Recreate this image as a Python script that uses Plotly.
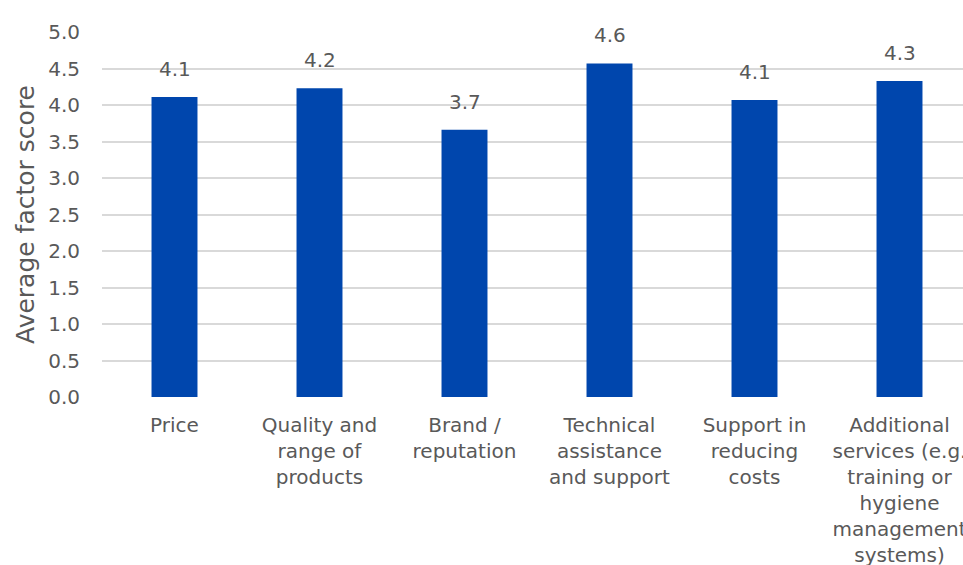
import plotly.graph_objects as go

# Factor categories and their average scores
categories = [
    "Price",
    "Quality and\nrange of\nproducts",
    "Brand /\nreputation",
    "Technical\nassistance\nand support",
    "Support in\nreducing\ncosts",
    "Additional\nservices (e.g.\ntraining or\nhygiene\nmanagement\nsystems)",
]
scores = [4.11, 4.23, 3.66, 4.57, 4.07, 4.33]
y_ticks = [0.0, 0.5, 1.0, 1.5, 2.0, 2.5, 3.0, 3.5, 4.0, 4.5, 5.0]

FONT = "DejaVu Sans"
TEXT_COLOR = "#595959"
BAR_COLOR = "#0046AD"
GRID_COLOR = "#D9D9D9"

x_labels = [c.replace("\n", "<br>") for c in categories]

fig = go.Figure(
    go.Bar(
        x=x_labels,
        y=scores,
        marker=dict(color=BAR_COLOR, line=dict(width=0)),
        hoverinfo="skip",
    )
)

# Value labels above each bar
for lab, val in zip(x_labels, scores):
    fig.add_annotation(
        x=lab, y=val, text=f"{val:.1f}",
        showarrow=False, yanchor="bottom", yshift=14,
        font=dict(family=FONT, size=20, color=TEXT_COLOR),
    )

W, H = 963, 565
left, top, bottom = 102, 32, 168
cat_px = 145.0
plot_w = W - left

fig.update_layout(
    width=W, height=H,
    margin=dict(l=left, r=0, t=top, b=bottom, pad=0, autoexpand=False),
    paper_bgcolor="white", plot_bgcolor="white",
    bargap=0.683,
    showlegend=False,
    font=dict(family=FONT, size=20, color=TEXT_COLOR),
    xaxis=dict(
        range=[-0.5, -0.5 + plot_w / cat_px],
        showgrid=False, zeroline=False, showline=False,
        ticks="", tickfont=dict(family=FONT, size=20, color=TEXT_COLOR),
        ticklabelstandoff=14,
        automargin=False,
        fixedrange=True,
    ),
    yaxis=dict(
        range=[0, 5],
        tickvals=y_ticks,
        ticktext=[f"{v:.1f}" for v in y_ticks],
        showgrid=True, gridcolor=GRID_COLOR, gridwidth=1.5,
        zeroline=False, showline=False, ticks="",
        tickfont=dict(family=FONT, size=20, color=TEXT_COLOR),
        ticklabelstandoff=21,
        title=dict(text="Average factor score",
                   font=dict(family=FONT, size=25, color=TEXT_COLOR),
                   standoff=6),
        automargin=False,
        fixedrange=True,
    ),
)

fig.write_html("out.html")
